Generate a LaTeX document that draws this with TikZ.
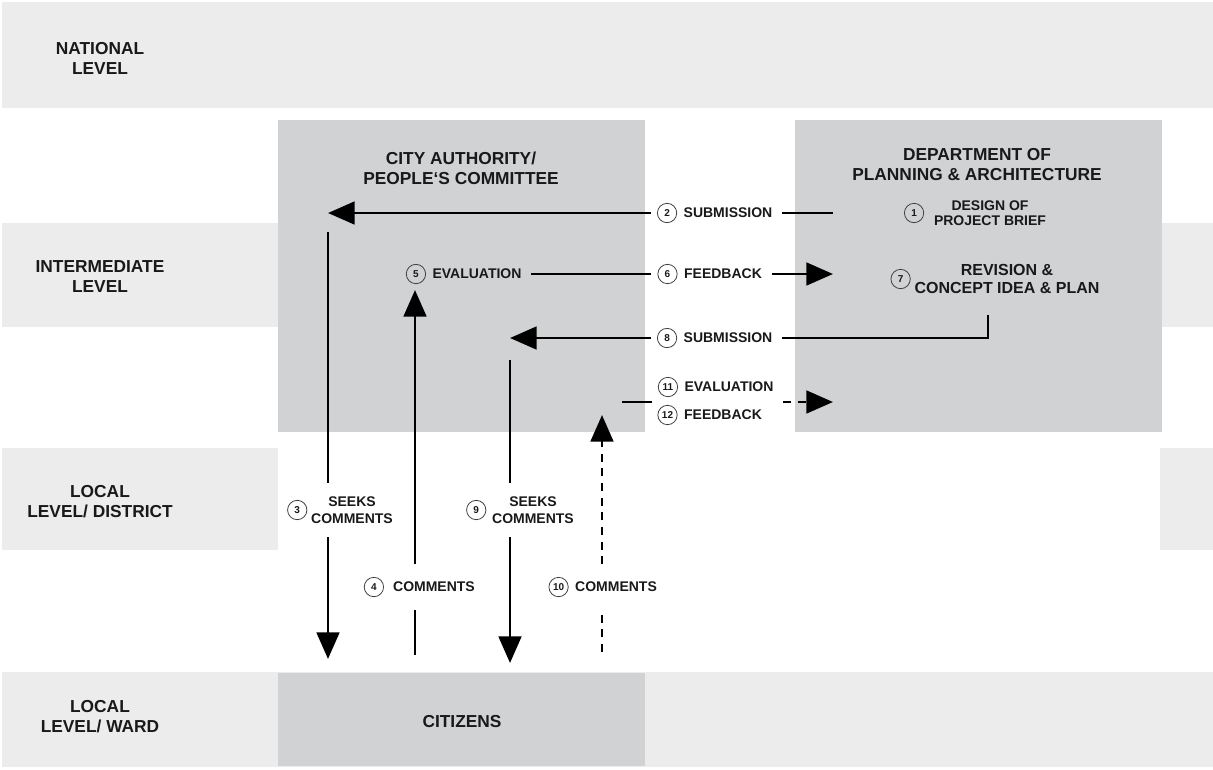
\documentclass[tikz,border=0pt]{standalone}
\usepackage{fontspec}
\setmainfont{Liberation Sans}
\usepackage{xcolor}
\usetikzlibrary{arrows.meta,positioning}
\definecolor{bandgray}{RGB}{236,236,236}
\definecolor{boxgray}{RGB}{208,210,212}
\newcommand{\headfont}{\fontsize{13}{15}\selectfont\bfseries}
\newcommand{\revfont}{\fontsize{12}{13.5}\selectfont\bfseries}
\newcommand{\lblfont}{\fontsize{10.5}{11.5}\selectfont\bfseries}

\begin{document}
\begin{tikzpicture}[
  x=0.75pt, y=-0.75pt,
  band/.style={fill=bandgray},
  box/.style={fill=boxgray},
  level/.style={align=center,font=\headfont,text=black!90},
  head/.style={align=center,font=\headfont,text=black!90},
  lbl/.style={align=center,font=\lblfont,text=black!90,inner xsep=7pt,inner ysep=1pt},
  seek/.style={lbl,font=\fontsize{10.5}{13}\selectfont\bfseries},
  num/.style={circle,draw=black!75,line width=0.6pt,inner sep=0pt,minimum size=14.5pt,
              font=\fontsize{7.5}{7.5}\selectfont\bfseries,text=black!90,outer sep=5pt},
  link/.style={line width=2.2pt},
  arrow/.style={line width=2.2pt,-{Triangle[length=20pt,width=17pt]}},
  dasharrow/.style={arrow,dash pattern=on 6pt off 5pt}
]
\useasboundingbox (0,0) rectangle (1213,769);
% level bands
\fill[band] (2,2) rectangle (1213,108);
\fill[band] (2,223) rectangle (278,327);
\fill[band] (1162,223) rectangle (1213,327);
\fill[band] (2,448) rectangle (278,550);
\fill[band] (1160,448) rectangle (1213,550);
\fill[band] (2,672) rectangle (1213,767);
% actors
\fill[box] (278,120) rectangle (645,432);
\fill[box] (795,120) rectangle (1162,432);
\fill[box] (278,673) rectangle (645,766);

\node[level] (national) at (100,58) {NATIONAL\\LEVEL};
\node[level] (interm) at (100,277) {INTERMEDIATE\\LEVEL};
\node[level] (district) at (100,502) {LOCAL\\LEVEL/ DISTRICT};
\node[level] (ward) at (100,717) {LOCAL\\LEVEL/ WARD};

\node[head] (city) at (461,168) {CITY AUTHORITY/\\PEOPLE‘S COMMITTEE};
\node[head] (dept) at (977,165) {DEPARTMENT OF\\PLANNING \& ARCHITECTURE};
\node[head] (citizens) at (462,722) {CITIZENS};

% labels
\node[lbl] (t1) at (990,213) {DESIGN OF\\PROJECT BRIEF};
\node[num,left=-4.5pt of t1] (n1) {1};
\node[lbl] (t2) at (728,213) {SUBMISSION};
\node[num,left=-7pt of t2] (n2) {2};
\node[seek] (t3) at (352,510) {SEEKS\\COMMENTS};
\node[num,left=-9pt of t3] (n3) {3};
\node[lbl] (t4) at (434,587) {COMMENTS};
\node[num,left=-5pt of t4] (n4) {4};
\node[lbl] (t5) at (477,274) {EVALUATION};
\node[num,left=-7pt of t5] (n5) {5};
\node[lbl] (t6) at (723,274) {FEEDBACK};
\node[num,left=-7pt of t6] (n6) {6};
\node[lbl,font=\revfont] (t7) at (1007,279) {REVISION \&\\CONCEPT IDEA \& PLAN};
\node[num,left=-9pt of t7] (n7) {7};
\node[lbl] (t8) at (728,338) {SUBMISSION};
\node[num,left=-7pt of t8] (n8) {8};
\node[seek] (t9) at (533,510) {SEEKS\\COMMENTS};
\node[num,left=-7.5pt of t9] (n9) {9};
\node[lbl] (t10) at (616,587) {COMMENTS};
\node[num,left=-7pt of t10] (n10) {10};
\node[lbl] (t11) at (729,387) {EVALUATION};
\node[num,left=-7pt of t11] (n11) {11};
\node[lbl] (t12) at (723,415) {FEEDBACK};
\node[num,left=-7pt of t12] (n12) {12};

% free ends
\coordinate (d2) at (833,213);
\coordinate (c2) at (328,213);
\coordinate (c3) at (328,232);
\coordinate (w3) at (328,659);
\coordinate (w4) at (415,655);
\coordinate (c4) at (415,290);
\coordinate (d6) at (833,274);
\coordinate (d8) at (988,315);
\coordinate (c8) at (510,338);
\coordinate (c9) at (510,360);
\coordinate (w9) at (510,663);
\coordinate (w10) at (602,652);
\coordinate (c10) at (602,415);
\coordinate (c11) at (622,402);
\coordinate (d11) at (833,402);

% connectors
\draw[link] (d2) -- (t2.east);
\draw[arrow] (n2.west) -- (c2);
\draw[link,shorten >=9pt] (c3) -- (c3 |- t3.north);
\draw[arrow,shorten <=9pt] (c3 |- t3.south) -- (w3);
\draw[link,shorten >=12pt] (w4) -- (w4 |- t4.south);
\draw[arrow,shorten <=12pt] (w4 |- t4.north) -- (c4);
\draw[link] (t5.east) -- (n6.west);
\draw[arrow] (t6.east) -- (d6);
\draw[link] (d8) |- (t8.east);
\draw[arrow] (n8.west) -- (c8);
\draw[link,shorten >=9pt] (c9) -- (c9 |- t9.north);
\draw[arrow,shorten <=9pt] (c9 |- t9.south) -- (w9);
\draw[link,dash pattern=on 6pt off 5pt,shorten >=12pt] (w10) -- (w10 |- t10.south);
\draw[dasharrow,shorten <=12pt] (w10 |- t10.north) -- (c10);
\draw[link] (c11) -- (n11.west |- c11);
\draw[dasharrow] (t11.east |- c11) -- (d11);
\end{tikzpicture}
\end{document}
